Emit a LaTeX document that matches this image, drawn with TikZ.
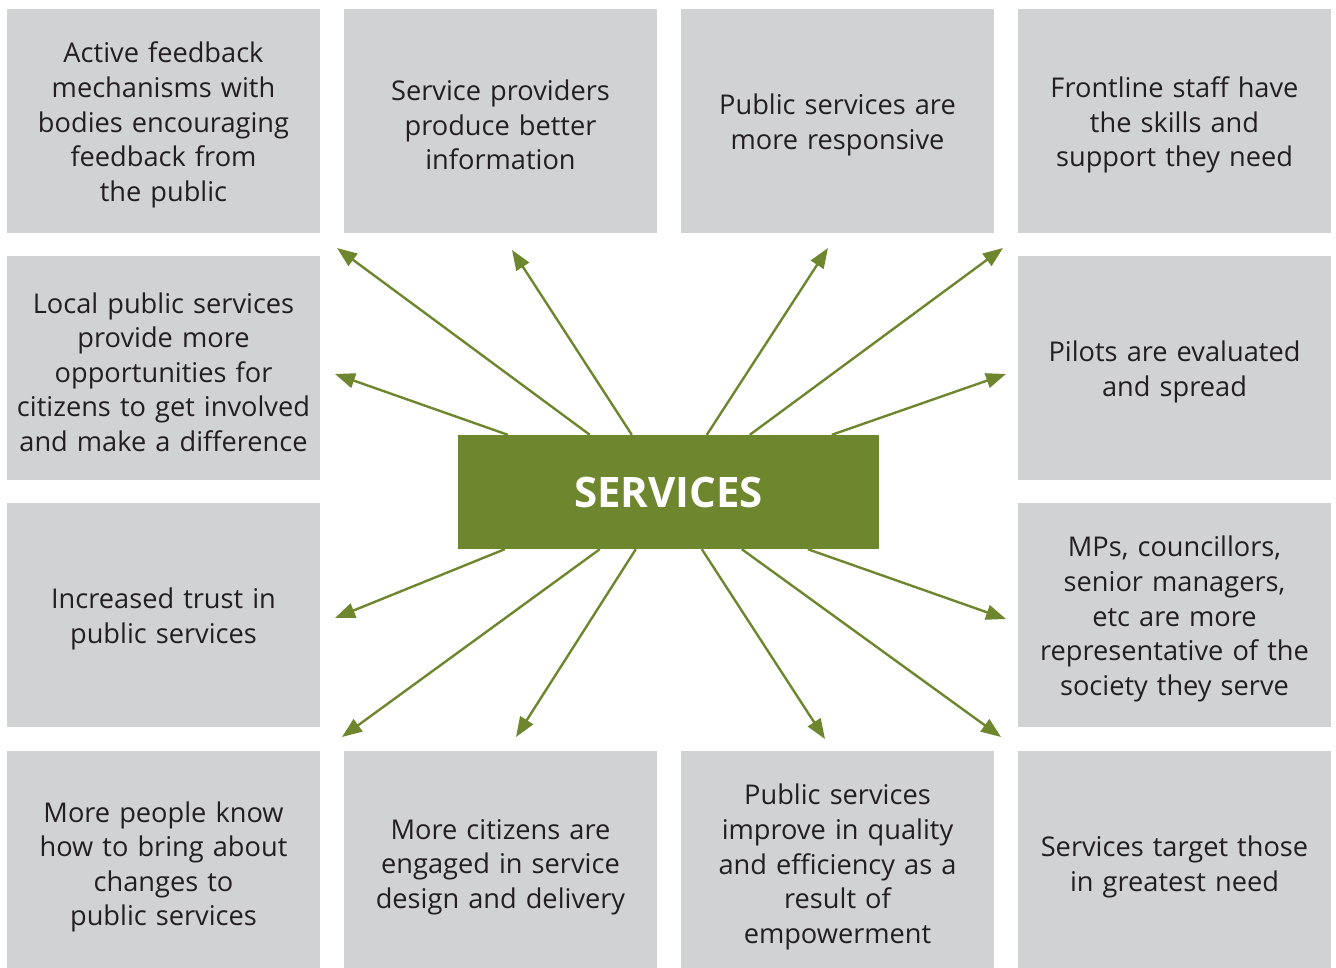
\documentclass[tikz,border=0pt]{standalone}
\usepackage{fontspec}
\setmainfont{Open Sans}
\usetikzlibrary{arrows.meta,calc}
\definecolor{boxgray}{HTML}{D1D2D4}
\definecolor{svgreen}{HTML}{6E862E}
\definecolor{txt}{HTML}{231F20}
\tikzset{
  outcome/.style={fill=boxgray, draw=none, minimum width=313pt, minimum height=224pt,
    inner sep=0pt},
  outtext/.style={text width=305pt, align=center, inner sep=0pt, text=txt,
    font=\fontsize{27.2}{34.6}\selectfont, yshift=-4pt},
  hub/.style={fill=svgreen, draw=none, minimum width=421pt, minimum height=114pt,
    inner sep=0pt, text=white, font=\fontsize{42}{50}\selectfont\bfseries},
  arr/.style={draw=svgreen, line width=2.4pt, -{Triangle[length=20pt,width=15pt]}}
}
\newcommand{\outc}[3]{\node[outcome, label={[outtext]center:{#3}}] (#1) at (#2) {};}
\begin{document}
\begin{tikzpicture}[x=1pt,y=-1pt]
\useasboundingbox (0,0) rectangle (1336,968);
\clip (0,0) rectangle (1336,968);
% row 1
\outc{b11}{163.5,121}{Active feedback\\mechanisms with\\bodies encouraging\\feedback from\\the public}
\outc{b12}{500.5,121}{Service providers\\produce better\\information}
\outc{b13}{837.5,121}{Public services are\\more responsive}
\outc{b14}{1174.5,121}{Frontline staff have\\the skills and\\support they need}
% row 2
\outc{b21}{163.5,368}{Local public services\\provide more\\opportunities for\\citizens to get involved\\and make a difference}
\outc{b24}{1174.5,368}{Pilots are evaluated\\and spread}
% row 3
\outc{b31}{163.5,615}{Increased trust in\\public services}
\outc{b34}{1174.5,615}{MPs, councillors,\\senior managers,\\etc are more\\representative of the\\society they serve}
% row 4
\outc{b41}{163.5,863}{More people know\\how to bring about\\changes to\\public services}
\outc{b42}{500.5,863}{More citizens are\\engaged in service\\design and delivery}
\outc{b43}{837.5,863}{Public services\\improve in quality\\and efficiency as a\\result of\\empowerment}
\outc{b44}{1174.5,863}{Services target those\\in greatest need}
% hub
\node[hub] (c) at (668.5,492) {SERVICES};
% arrow ends
\coordinate (e1) at (335,374);
\coordinate (e2) at (337,248);
\coordinate (e3) at (512,250);
\coordinate (e4) at (828,248);
\coordinate (e5) at (1003,248);
\coordinate (e6) at (1006,374);
\coordinate (e7) at (335,618);
\coordinate (e8) at (342,737);
\coordinate (e9) at (516,737);
\coordinate (e10) at (825,739);
\coordinate (e11) at (1001,737);
\coordinate (e12) at (1006,619);
% arrows (top edge)
\draw[arr] ([xshift=50pt]c.north west) -- (e1);
\draw[arr] ([xshift=132pt]c.north west) -- (e2);
\draw[arr] ([xshift=174pt]c.north west) -- (e3);
\draw[arr] ([xshift=249pt]c.north west) -- (e4);
\draw[arr] ([xshift=292pt]c.north west) -- (e5);
\draw[arr] ([xshift=374pt]c.north west) -- (e6);
% arrows (bottom edge)
\draw[arr] ([xshift=47pt]c.south west) -- (e7);
\draw[arr] ([xshift=142pt]c.south west) -- (e8);
\draw[arr] ([xshift=178pt]c.south west) -- (e9);
\draw[arr] ([xshift=244pt]c.south west) -- (e10);
\draw[arr] ([xshift=284pt]c.south west) -- (e11);
\draw[arr] ([xshift=350pt]c.south west) -- (e12);
\end{tikzpicture}
\end{document}
